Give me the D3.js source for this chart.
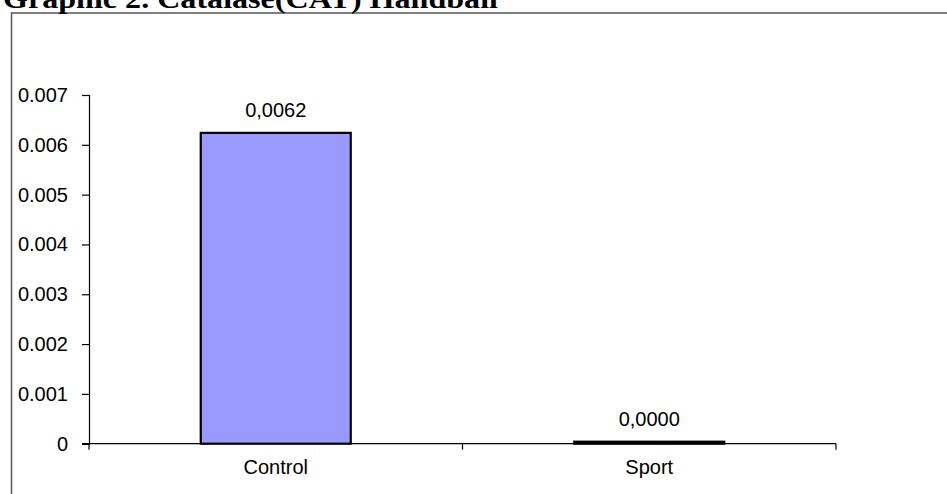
<!DOCTYPE html>
<html>
<head>
<meta charset="utf-8">
<script src="https://cdn.jsdelivr.net/npm/d3@7"></script>
<style>
  html, body { margin: 0; padding: 0; background: #fff; }
  svg { display: block; }
</style>
</head>
<body>
<svg id="chart" width="947" height="494"></svg>
<script>
// Catalase activity, handball players vs control group
const categories = ["Control", "Sport"];
const values = [0.00624, 0.00004];
const yTicks = [0, 0.001, 0.002, 0.003, 0.004, 0.005, 0.006, 0.007];
const titleText = "Graphic 2. Catalase(CAT) Handball";

const svg = d3.select("#chart");
const W = 947, H = 494;

// Outer frame of the chart object
svg.append("rect")
  .attr("x", 11.5).attr("y", 13)
  .attr("width", W).attr("height", H)
  .attr("fill", "none")
  .attr("stroke", "#555")
  .attr("stroke-width", 1.5);

// Title (partly above the frame)
svg.append("text")
  .attr("x", 3).attr("y", 8)
  .attr("font-family", "'Liberation Serif', 'Times New Roman', serif")
  .attr("font-weight", "bold")
  .attr("font-size", 28)
  .attr("textLength", 495)
  .attr("lengthAdjust", "spacingAndGlyphs")
  .attr("fill", "#000")
  .text(titleText);

const plot = { left: 89, right: 836, top: 95, bottom: 443.7 };

const xBand = d3.scaleBand()
  .domain(categories)
  .range([plot.left, plot.right]);

const y = d3.scaleLinear()
  .domain([0, 0.007])
  .range([plot.bottom, plot.top]);

const fontFamily = "'Liberation Sans', Arial, sans-serif";
const fs = 20;

// Y axis
const yAxis = svg.append("g")
  .attr("transform", `translate(${plot.left},0)`)
  .call(d3.axisLeft(y).tickValues(yTicks).tickSize(7).tickPadding(14)
    .tickFormat(d => d === 0 ? "0" : d3.format(".3f")(d)));
yAxis.select(".domain").attr("stroke", "#000").attr("stroke-width", 1.2);
yAxis.selectAll(".tick line").attr("stroke", "#000").attr("stroke-width", 1.2);
yAxis.selectAll(".tick text")
  .attr("font-family", fontFamily).attr("font-size", fs).attr("fill", "#000");

// X axis line with boundary ticks between categories
const xAxisG = svg.append("g");
xAxisG.append("line")
  .attr("x1", plot.left - 7).attr("x2", plot.right)
  .attr("y1", plot.bottom).attr("y2", plot.bottom)
  .attr("stroke", "#000").attr("stroke-width", 1.2);
const boundaries = categories.map(c => xBand(c)).concat([xBand(categories[categories.length - 1]) + xBand.bandwidth()]);
xAxisG.selectAll("line.tk").data(boundaries).join("line")
  .attr("class", "tk")
  .attr("x1", d => d).attr("x2", d => d)
  .attr("y1", plot.bottom).attr("y2", plot.bottom + 6)
  .attr("stroke", "#000").attr("stroke-width", 1.2);
xAxisG.selectAll("text").data(categories).join("text")
  .attr("x", d => xBand(d) + xBand.bandwidth() / 2)
  .attr("y", plot.bottom + 30)
  .attr("text-anchor", "middle")
  .attr("font-family", fontFamily).attr("font-size", fs).attr("fill", "#000")
  .text(d => d);

// Bars
const barW = 150;
svg.selectAll("rect.bar").data(categories).join("rect")
  .attr("class", "bar")
  .attr("x", d => xBand(d) + xBand.bandwidth() / 2 - barW / 2)
  .attr("width", barW)
  .attr("y", (d, i) => y(values[i]))
  .attr("height", (d, i) => plot.bottom - y(values[i]))
  .attr("fill", "#9999ff")
  .attr("stroke", "#000")
  .attr("stroke-width", 2.2);

// Value labels, decimal comma
const fmt = v => d3.format(".4f")(v).replace(".", ",");
svg.selectAll("text.val").data(categories).join("text")
  .attr("class", "val")
  .attr("x", d => xBand(d) + xBand.bandwidth() / 2)
  .attr("y", (d, i) => y(values[i]) - 16)
  .attr("text-anchor", "middle")
  .attr("font-family", fontFamily).attr("font-size", fs).attr("fill", "#000")
  .text((d, i) => fmt(values[i]));
</script>
</body>
</html>
